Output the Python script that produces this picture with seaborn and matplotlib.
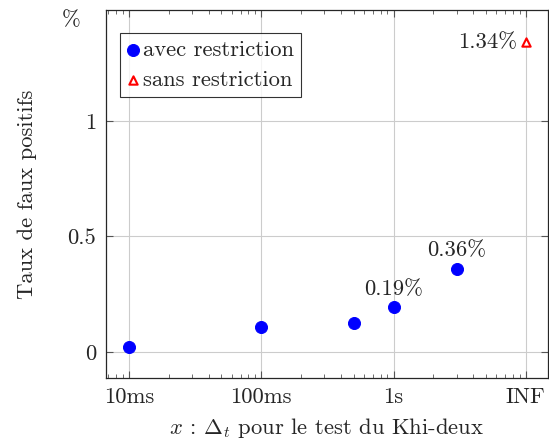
import numpy as np
import pandas as pd
import matplotlib
matplotlib.use("Agg")
import matplotlib.pyplot as plt
import seaborn as sns

# Data (x in seconds, y in %)
delta_avec = [0.01, 0.1, 0.5, 1.0, 3.0]
taux_avec = [0.02, 0.107, 0.127, 0.193, 0.36]
delta_sans = [10.0]
taux_sans = [1.34]
tick_pos = [0.01, 0.1, 1.0, 10.0]
tick_labels = ["10ms", "100ms", "1s", "INF"]

df = pd.DataFrame({
    "delta": delta_avec + delta_sans,
    "taux": taux_avec + taux_sans,
    "serie": ["avec restriction"] * len(delta_avec) + ["sans restriction"] * len(delta_sans),
})

sns.set_style("ticks")
plt.rcParams["font.family"] = "serif"
plt.rcParams["font.serif"] = ["cmr10", "DejaVu Serif"]
plt.rcParams["mathtext.fontset"] = "cm"
plt.rcParams["axes.formatter.use_mathtext"] = True

fs = 16.3

fig = plt.figure(figsize=(5.49, 4.44), dpi=100)
ax = fig.add_axes([0.193, 0.1486, 0.805, 0.829])

sns.scatterplot(data=df[df.serie == "avec restriction"], x="delta", y="taux",
                color="#0000ff", marker="o", s=75, edgecolor="#0000ff",
                label="avec restriction", ax=ax, zorder=3)
ax.scatter(delta_sans, taux_sans, marker="^", s=36, facecolors="white",
           edgecolors="red", linewidths=1.5, label="sans restriction", zorder=3)

ax.set_xscale("log")
ax.set_xlim(10 ** -2.174, 10 ** 1.167)
ax.set_ylim(-0.1125, 1.48)
ax.set_xticks(tick_pos)
ax.set_xticklabels(tick_labels)
ax.set_yticks([0, 0.5, 1])
ax.set_yticklabels(["0", "0.5", "1"])
ax.grid(True, which="major", color="#cccccc", linewidth=0.8)
ax.set_axisbelow(True)

ax.tick_params(which="both", direction="in", top=True, right=True, labelsize=fs)
ax.tick_params(which="major", length=5, color="#555555")
ax.tick_params(which="minor", length=3, color="#555555")
ax.tick_params(axis="x", pad=7)
ax.tick_params(axis="y", pad=7)
for s in ax.spines.values():
    s.set_linewidth(0.9)

ax.set_xlabel(r"$x$ : $\Delta_t$ pour le test du Khi-deux", fontsize=fs, labelpad=6)
ax.set_ylabel("Taux de faux positifs", fontsize=fs, labelpad=22)
ax.annotate("%", (0, 1.437), xycoords=ax.get_yaxis_transform(),
            xytext=(-18, 0), textcoords="offset points", ha="right",
            va="center", fontsize=fs)

# Annotations
ax.annotate("0.19%", (1.0, 0.193), xytext=(0, 6), textcoords="offset points",
            ha="center", va="bottom", fontsize=fs)
ax.annotate("0.36%", (3.0, 0.36), xytext=(0, 6), textcoords="offset points",
            ha="center", va="bottom", fontsize=fs)
ax.annotate("1.34%", (10.0, 1.34), xytext=(-6, 0), textcoords="offset points",
            ha="right", va="center", fontsize=fs)

leg = ax.legend(loc="upper left", bbox_to_anchor=(0.031, 0.937), fontsize=fs,
                frameon=True, fancybox=False, edgecolor="black",
                handletextpad=0.15, borderpad=0.3, labelspacing=0.45,
                handlelength=0.6, borderaxespad=0)
leg.get_frame().set_linewidth(0.8)

plt.savefig("out.png", dpi=100)
